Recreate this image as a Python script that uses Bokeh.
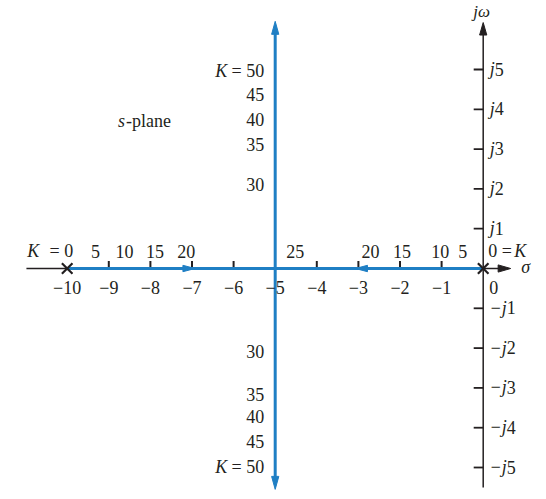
import numpy as np
from bokeh.plotting import figure
from bokeh.models import Range1d
from bokeh.core.properties import value
from bokeh.embed import file_html
from bokeh.resources import INLINE

# ---------------- data ----------------
poles = [-10, 0]                       # open-loop poles (K = 0)
breakaway = -5                         # vertical branch of the locus
real_tick_vals = [-10, -9, -8, -7, -6, -5, -4, -3, -2, -1]
real_tick_text = ["−10", "−9", "−8", "−7", "−6", "−5", "−4", "−3", "−2", "−1"]
real_tick_marks = [-9, -8, -7, -6, -4, -3, -2, -1]
imag_tick_vals = [1, 2, 3, 4, 5, -1, -2, -3, -4, -5]
imag_prefix = ["j", "j", "j", "j", "j", "−j", "−j", "−j", "−j", "−j"]
imag_digit = ["1", "2", "3", "4", "5", "1", "2", "3", "4", "5"]

# K gain labels along the real axis
K_left_text = ["5", "10", "15", "20"]
K_left_x = [-9.32, -8.62, -7.89, -7.14]
K_right_text = ["5", "10", "15", "20"]
K_right_x = [-0.49, -1.03, -1.95, -2.71]
K_break_text = ["25"]
K_break_x = [-4.52]
# K gain labels along the vertical branch
K_upper_text = ["30", "35", "40", "45", "= 50"]
K_upper_y = [2.11, 3.11, 3.72, 4.37, 4.95]
K_lower_text = ["30", "35", "40", "45", "= 50"]
K_lower_y = [-2.11, -3.17, -3.74, -4.37, -5.0]

# extents
real_axis_ext = [-10.98, 0.66]
imag_axis_ext = [-5.5, 6.18]
vert_branch_ext = [-5.55, 6.21]
dir_arrows_x = [-6.93, -3.07]          # arrow tips on the real-axis branches
dir_arrows_dx = [1, -1]

# ---------------- figure ----------------
W, H = 546, 499
SX, SY = 41.6, 39.8
X0, X1 = -482.7 / SX, (W - 482.7) / SX
Y0, Y1 = -(H - 268) / SY, 268 / SY

p = figure(width=W, height=H, x_range=Range1d(X0, X1), y_range=Range1d(Y0, Y1),
           x_axis_type=None, y_axis_type=None, output_backend="svg",
           toolbar_location=None, min_border=0)
p.grid.visible = False
p.outline_line_color = None
p.background_fill_color = "white"

BLUE = "#1f7fc4"
INK = "#231f20"
FONT = value("Liberation Serif")
FS = "18px"


def head(tx, ty, dx, dy, L=12.5, hw=3.6):
    bx = tx - dx * L / SX
    by = ty - dy * L / SY
    px_, py_ = -dy, dx
    return ([tx, bx + px_ * hw / SX, bx - px_ * hw / SX],
            [ty, by + py_ * hw / SY, by - py_ * hw / SY])


# black axes
p.segment(x0=[real_axis_ext[0]], y0=[0], x1=[real_axis_ext[1] - 8 / SX], y1=[0],
          line_color=INK, line_width=1.5)
p.segment(x0=[0], y0=[imag_axis_ext[0]], x1=[0], y1=[imag_axis_ext[1] - 8 / SY],
          line_color=INK, line_width=1.5)
hx1, hy1 = head(real_axis_ext[1], 0, 1, 0)
hx2, hy2 = head(0, imag_axis_ext[1], 0, 1)
p.patches(xs=[hx1, hx2], ys=[hy1, hy2], fill_color=INK, line_color=INK, line_width=1)

# tick marks
p.segment(x0=real_tick_marks, y0=[0] * len(real_tick_marks),
          x1=real_tick_marks, y1=[7.5 / SY] * len(real_tick_marks),
          line_color=INK, line_width=2)
p.segment(x0=[0] * len(imag_tick_vals), y0=imag_tick_vals,
          x1=[-9.5 / SX] * len(imag_tick_vals), y1=imag_tick_vals,
          line_color=INK, line_width=1.8)

# blue root locus
p.segment(x0=[poles[0]], y0=[0], x1=[poles[1]], y1=[0], line_color=BLUE, line_width=3)
p.segment(x0=[breakaway], y0=[vert_branch_ext[0] + 8 / SY], x1=[breakaway],
          y1=[vert_branch_ext[1] - 8 / SY], line_color=BLUE, line_width=3)
heads_x, heads_y = [], []
for ax, adx in zip(dir_arrows_x, dir_arrows_dx):
    hx, hy = head(ax, 0, adx, 0, L=12, hw=3.2)
    heads_x.append(hx); heads_y.append(hy)
for vy, d in zip(vert_branch_ext, [-1, 1]):
    hx, hy = head(breakaway, vy, 0, d, L=13, hw=3.6)
    heads_x.append(hx); heads_y.append(hy)
p.patches(xs=heads_x, ys=heads_y, fill_color=BLUE, line_color=BLUE, line_width=1)

# poles
p.scatter(x=poles, y=[0, 0], marker="x", size=15, line_color=INK, line_width=2.2)

# ---------------- texts ----------------
SHIFT = 6.5 / SY   # compensates the renderer's baseline placement


def txt(x, y, t, align="center", italic=False, xoff=0, size=FS):
    p.text(x=x, y=[v + SHIFT for v in y], text=t, text_font=FONT, text_font_size=size,
           text_align=align, text_baseline="alphabetic", text_color=INK,
           text_font_style="italic" if italic else "normal", x_offset=xoff)

LAB_BASE = -25 / SY           # real tick labels baseline below axis
K_BASE = 11 / SY              # K labels baseline above axis
MID = 6 / SY                  # half of digit height

txt(real_tick_vals, [LAB_BASE] * len(real_tick_vals), real_tick_text)
txt([0], [LAB_BASE], ["0"], align="left", xoff=6)

txt([0] * 10, [v - MID for v in imag_tick_vals], imag_prefix, align="right", italic=True,
    xoff=[11.5] * 5 + [23.5] * 5)
txt([0] * 10, [v - MID for v in imag_tick_vals], imag_digit, align="left",
    xoff=[11.5] * 5 + [23.5] * 5)

txt(K_left_x, [K_BASE] * 4, K_left_text)
txt(K_right_x, [K_BASE] * 4, K_right_text)
txt(K_break_x, [K_BASE], K_break_text)

txt([poles[0]], [K_BASE], ["K"], align="left", italic=True, xoff=-40)
txt([poles[0]], [K_BASE], ["= 0"], align="right", xoff=6)
txt([poles[1]], [K_BASE], ["0 ="], align="left", xoff=5)
txt([poles[1]], [K_BASE], ["K"], align="left", italic=True, xoff=31)

txt([breakaway] * 5, [v - MID for v in K_upper_y], K_upper_text, align="right", xoff=-11)
txt([breakaway] * 5, [v - MID for v in K_lower_y], K_lower_text, align="right", xoff=-11)
txt([breakaway] * 2, [K_upper_y[-1] - MID, K_lower_y[-1] - MID], ["K", "K"],
    align="right", italic=True, xoff=-48)

# plane labels
txt([-8.78], [3.54], ["s"], align="left", italic=True)
txt([-8.78], [3.54], ["-plane"], align="left", xoff=8)
txt([0], [6.29], ["jω"], align="left", italic=True, xoff=-10, size="17px")
txt([0], [-0.13], ["σ"], align="left", italic=True, xoff=38)

open("out.html", "w").write(file_html(p, INLINE))
